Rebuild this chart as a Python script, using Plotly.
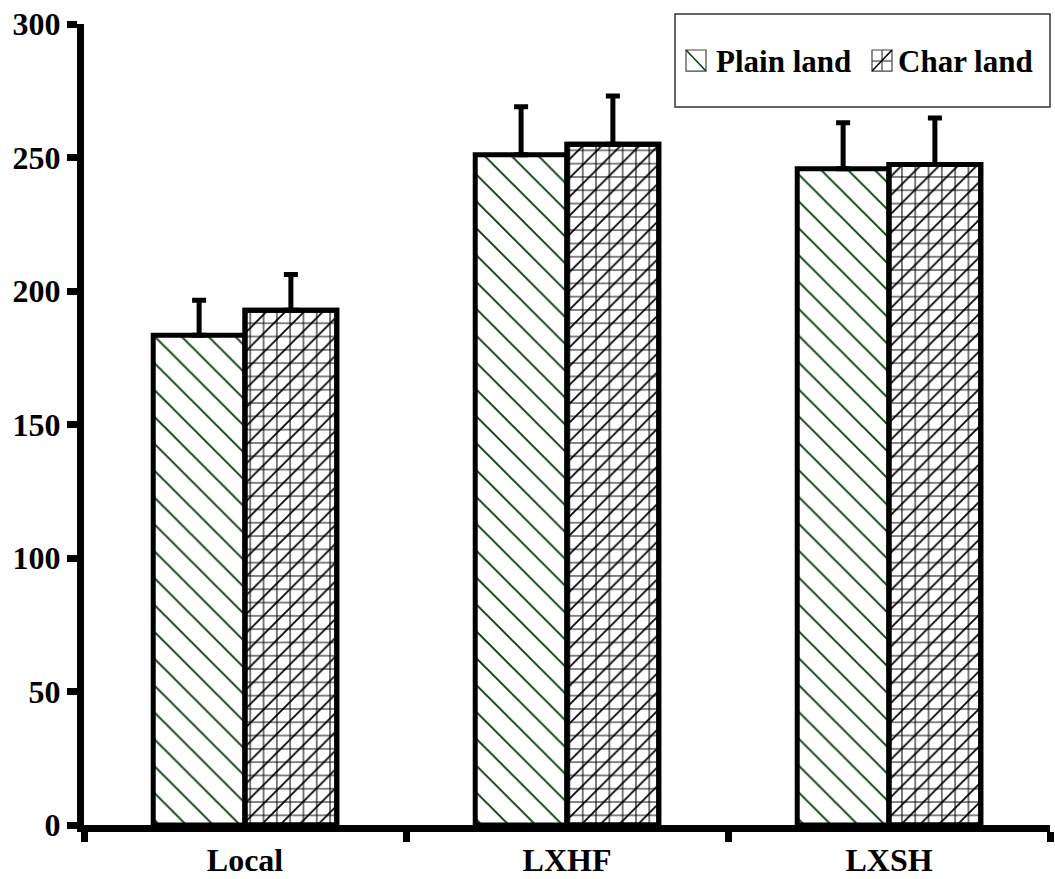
import plotly.graph_objects as go

# Mean values with standard errors for each variety and land type
varieties = ["Local", "LXHF", "LXSH"]
plain_land = [183.4, 251.0, 245.8]
plain_err = [13.1, 18.0, 17.2]
char_land = [192.8, 255.0, 247.4]
char_err = [13.4, 18.0, 17.4]

y_ticks = [0, 50, 100, 150, 200, 250, 300]
legend_labels = ["Plain land", "Char land"]

FONT = dict(family="Liberation Serif", size=32, color="black", weight="bold")
OUTLINE = dict(color="black", width=5)
ERR_STYLE = dict(type="data", symmetric=False, color="black", thickness=5, width=7)
PLAIN_GREEN = "#0c3a0c"

# plot-area geometry (pixels) used to place the legend box
L, R, T, B = 84, 5, 24, 54
W, H = 1055, 879
PW, PH = W - L - R, H - T - B - 0.5


def px(xp):
    return (xp - L) / PW


def py(yp):
    return (H - B - 0.5 - yp) / PH


fig = go.Figure()

fig.add_trace(go.Bar(
    name=legend_labels[0],
    x=varieties,
    y=plain_land,
    offsetgroup="plain",
    marker=dict(
        color="white",
        line=OUTLINE,
        pattern=dict(shape="\\", size=19, solidity=0.1, fgopacity=1,
                     fgcolor=PLAIN_GREEN, bgcolor="white"),
    ),
    error_y=dict(ERR_STYLE, array=plain_err, arrayminus=[0] * len(plain_err)),
))

# Char land: square grid with a diagonal overlay drawn at the same position
fig.add_trace(go.Bar(
    name=legend_labels[1],
    x=varieties,
    y=char_land,
    offsetgroup="char",
    marker=dict(
        color="white",
        line=OUTLINE,
        pattern=dict(shape="+", size=13.3, solidity=0.15, fgopacity=1,
                     fgcolor="#000000", bgcolor="white"),
    ),
))
fig.add_trace(go.Bar(
    name=legend_labels[1],
    x=varieties,
    y=char_land,
    offsetgroup="char",
    marker=dict(
        color="rgba(0,0,0,0)",
        line=OUTLINE,
        pattern=dict(shape="/", size=13.3, solidity=0.13, fgopacity=1,
                     fgcolor="black", bgcolor="rgba(0,0,0,0)", fillmode="overlay"),
    ),
    error_y=dict(ERR_STYLE, array=char_err, arrayminus=[0] * len(char_err)),
))

# Legend box with hatched swatches
shapes = [dict(type="rect", xref="paper", yref="paper",
               x0=px(675), x1=px(1050), y0=py(107), y1=py(14),
               line=dict(color="#333333", width=1.5))]
thin = dict(color="#444444", width=1.2)
# plain swatch
shapes.append(dict(type="rect", xref="paper", yref="paper",
                   x0=px(686), x1=px(706), y0=py(71), y1=py(50), line=thin))
shapes.append(dict(type="line", xref="paper", yref="paper",
                   x0=px(686), x1=px(706), y0=py(50), y1=py(71),
                   line=dict(color=PLAIN_GREEN, width=1.5)))
# char swatch
shapes.append(dict(type="rect", xref="paper", yref="paper",
                   x0=px(872), x1=px(892), y0=py(71), y1=py(50), line=thin))
shapes.append(dict(type="line", xref="paper", yref="paper",
                   x0=px(882), x1=px(882), y0=py(71), y1=py(50), line=thin))
shapes.append(dict(type="line", xref="paper", yref="paper",
                   x0=px(872), x1=px(892), y0=py(61), y1=py(61), line=thin))
shapes.append(dict(type="line", xref="paper", yref="paper",
                   x0=px(872), x1=px(892), y0=py(71), y1=py(50),
                   line=dict(color="black", width=1.5)))

LEG_FONT = dict(family="Liberation Serif", size=31, color="black", weight="bold")
annotations = [
    dict(text=legend_labels[0], xref="paper", yref="paper", x=px(714), y=py(61),
         xanchor="left", yanchor="middle", showarrow=False, font=LEG_FONT),
    dict(text=legend_labels[1], xref="paper", yref="paper", x=px(896), y=py(61),
         xanchor="left", yanchor="middle", showarrow=False, font=LEG_FONT),
]

fig.update_layout(
    width=W,
    height=H,
    margin=dict(l=L, r=R, t=T, b=B),
    paper_bgcolor="white",
    plot_bgcolor="white",
    barmode="group",
    bargap=0.43,
    bargroupgap=0,
    showlegend=False,
    shapes=shapes,
    annotations=annotations,
)

fig.update_xaxes(
    showline=True, linewidth=7, linecolor="black",
    ticks="outside", tickson="boundaries", ticklen=10, tickwidth=7, tickcolor="black",
    tickfont=FONT, showgrid=False, ticklabelstandoff=1, automargin=False,
)
fig.update_yaxes(
    range=[0, 300], tickvals=y_ticks,
    showline=True, linewidth=7, linecolor="black",
    ticks="outside", ticklen=10, tickwidth=7, tickcolor="black",
    tickfont=FONT, showgrid=False, zeroline=False, automargin=False,
)

fig.write_html("out.html")
